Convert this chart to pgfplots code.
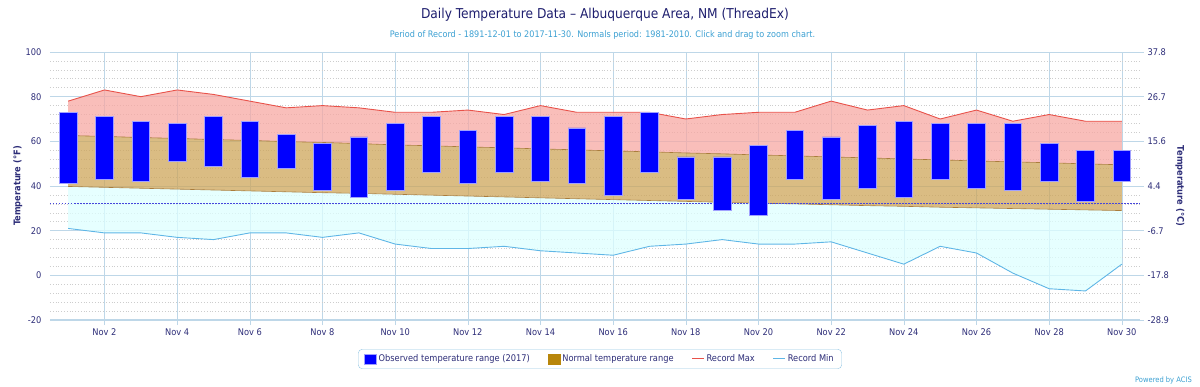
\documentclass[border=0pt]{standalone}
\usepackage{pgfplots}
\usepackage{pgfplotstable}
\pgfplotsset{compat=1.18}
\usepgfplotslibrary{fillbetween}
\usepackage{fontspec}
\setmainfont{DejaVu Sans Condensed}
\definecolor{titlenavy}{RGB}{30,30,110}
\definecolor{ticknavy}{RGB}{45,45,120}
\definecolor{subblue}{RGB}{60,160,210}
\definecolor{gridblue}{RGB}{190,215,232}
\definecolor{minorgrid}{RGB}{205,205,205}
\definecolor{pinkc}{RGB}{247,168,163}
\definecolor{tanc}{RGB}{205,165,90}
\definecolor{cyanc}{RGB}{222,255,255}
\definecolor{tanedge}{RGB}{170,125,60}
\definecolor{recmaxc}{RGB}{232,82,74}
\definecolor{recminc}{RGB}{95,182,230}
\definecolor{obsblue}{RGB}{0,0,255}
\definecolor{obsedge}{RGB}{160,160,255}
\definecolor{normleg}{RGB}{184,134,11}
\definecolor{freeze}{RGB}{70,70,220}
\definecolor{legbox}{RGB}{150,200,228}

\pgfplotstableread{
d lo hi rmax rmin nhi nlo
1 41 73 78 21 62.6 39.8
2 43 71 83 19 62.2 39.4
3 42 69 80 19 61.7 39.0
4 51 68 83 17 61.3 38.6
5 49 71 81 16 60.8 38.2
6 44 69 78 19 60.4 37.8
7 48 63 75 19 59.9 37.4
8 38 59 76 17 59.5 37.0
9 35 62 75 19 59.0 36.7
10 38 68 73 14 58.4 36.3
11 46 71 73 12 58.0 35.9
12 41 65 74 12 57.5 35.5
13 46 71 72 13 57.1 35.1
14 42 71 76 11 56.6 34.7
15 41 66 73 10 56.2 34.3
16 36 71 73 9 55.7 33.9
17 46 73 73 13 55.3 33.5
18 34 53 70 14 54.8 33.1
19 29 53 72 16 54.4 32.7
20 27 58 73 14 53.9 32.3
21 43 65 73 14 53.5 32.0
22 34 62 78 15 53.0 31.6
23 39 67 74 10 52.6 31.2
24 35 69 76 5 52.1 30.9
25 43 68 70 13 51.7 30.5
26 39 68 74 10 51.2 30.2
27 38 68 69 1 50.8 29.9
28 42 59 72 -6 50.4 29.6
29 33 56 69 -7 49.9 29.3
30 42 56 69 5 49.5 29.0
}\data

\begin{document}
\begin{tikzpicture}
\begin{axis}[
  at={(0pt,0pt)}, anchor=south west,
  scale only axis, width=1090pt, height=268pt,
  xmin=0.5, xmax=30.5, ymin=-20, ymax=100,
  xtick={2,4,...,30},
  xticklabels={Nov 2,Nov 4,Nov 6,Nov 8,Nov 10,Nov 12,Nov 14,Nov 16,Nov 18,Nov 20,Nov 22,Nov 24,Nov 26,Nov 28,Nov 30},
  ytick={-20,0,20,40,60,80,100},
  minor y tick num=4,
  xmajorgrids, ymajorgrids, yminorgrids,
  major grid style={color=gridblue, line width=0.6pt},
  minor grid style={color=minorgrid, dash pattern=on 0.8pt off 2pt, line width=0.6pt},
  axis x line*=bottom, axis y line*=left,
  y axis line style={draw=none},
  x axis line style={color=gridblue, line width=1.2pt, -},
  ytick style={draw=none}, minor y tick style={draw=none},
  xtick style={color=gridblue, line width=0.6pt},
  tick align=outside, major tick length=5pt,
  /pgf/number format/assume math mode=true,
  tick label style={font=\fontsize{9.2}{10}\selectfont, color=ticknavy},
  ylabel={Temperature (°F)},
  ylabel style={at={(axis description cs:-0.0294,0.5)}, anchor=center, font=\fontsize{9.2}{10}\selectfont\bfseries, color=ticknavy},
  legend style={at={(axis description cs:0.5046,-0.1455)}, anchor=center,
    draw=legbox, rounded corners=4pt, font=\fontsize{9.2}{10}\selectfont, text=ticknavy,
    /tikz/every even column/.append style={column sep=16pt},
    inner xsep=6pt, inner ysep=3.5pt},
  legend columns=4,
]
\addlegendimage{legend image code/.code={\draw[sharp corners, fill=obsblue, draw=obsedge] (0pt,-5pt) rectangle (12pt,5pt);}}
\addlegendentry{Observed temperature range (2017)}
\addlegendimage{legend image code/.code={\fill[sharp corners, normleg] (0pt,-5pt) rectangle (12pt,5pt);}}
\addlegendentry{Normal temperature range}
\addlegendimage{legend image code/.code={\draw[sharp corners, recmaxc, line width=1pt] (0pt,0pt) -- (12pt,0pt);}}
\addlegendentry{Record Max}
\addlegendimage{legend image code/.code={\draw[sharp corners, recminc, line width=1pt] (0pt,0pt) -- (12pt,0pt);}}
\addlegendentry{Record Min}

\addplot[name path=rmax, draw=none, forget plot] table[x=d, y=rmax]{\data};
\addplot[name path=nhi, draw=none, forget plot] table[x=d, y=nhi]{\data};
\addplot[name path=nlo, draw=none, forget plot] table[x=d, y=nlo]{\data};
\addplot[name path=rmin, draw=none, forget plot] table[x=d, y=rmin]{\data};
\addplot[fill=pinkc, fill opacity=0.75, draw=none, forget plot] fill between[of=rmax and nhi];
\addplot[fill=tanc, fill opacity=0.75, draw=none, forget plot] fill between[of=nhi and nlo];
\addplot[fill=cyanc, fill opacity=0.75, draw=none, forget plot] fill between[of=nlo and rmin];

\addplot[draw=recmaxc, line width=0.9pt, forget plot] table[x=d, y=rmax]{\data};
\addplot[draw=tanedge, line width=0.6pt, forget plot] table[x=d, y=nhi]{\data};
\addplot[draw=tanedge, line width=0.6pt, forget plot] table[x=d, y=nlo]{\data};
\addplot[draw=recminc, line width=0.9pt, forget plot] table[x=d, y=rmin]{\data};

\addplot[freeze, line width=0.9pt, dash pattern=on 1.5pt off 1.5pt, forget plot] coordinates {(0.5,32) (30.5,32)};
\end{axis}

\begin{axis}[
  at={(0pt,0pt)}, anchor=south west,
  scale only axis, width=1090pt, height=268pt,
  xmin=0.5, xmax=30.5, ymin=-20, ymax=100,
  axis lines=none,
  ybar stacked, bar width=17.5pt,
]
\addplot[draw=none, fill=none] table[x=d, y=lo]{\data};
\addplot[fill=obsblue, draw=obsedge, line width=0.7pt] table[x=d, y expr=\thisrow{hi}-\thisrow{lo}]{\data};
\end{axis}

\begin{axis}[
  at={(0pt,0pt)}, anchor=south west,
  scale only axis, width=1090pt, height=268pt,
  xmin=0.5, xmax=30.5, ymin=-28.8889, ymax=37.7778,
  axis x line=none, axis y line*=right,
  y axis line style={draw=none},
  ytick={-28.8889,-17.7778,-6.6667,4.4444,15.5556,26.6667,37.7778},
  yticklabels={-28.9,-17.8,-6.7,4.4,15.6,26.7,37.8},
  ytick style={color=gridblue, line width=0.6pt},
  tick align=outside, major tick length=4pt,
  tick label style={font=\fontsize{9.2}{10}\selectfont, color=ticknavy},
  ylabel={Temperature (°C)},
  ylabel style={at={(axis description cs:1.0367,0.5)}, anchor=center, rotate=180, font=\fontsize{9.2}{10}\selectfont\bfseries, color=ticknavy},
]
\addplot[draw=none, forget plot] coordinates {(1,0) (30,0)};
\end{axis}

\node[font=\fontsize{13.6}{15}\selectfont, text=titlenavy] at (555pt,305pt) {Daily Temperature Data – Albuquerque Area, NM (ThreadEx)};
\node[font=\fontsize{9}{10}\selectfont, text=subblue] at (552.5pt,285pt) {Period of Record - 1891-12-01 to 2017-11-30. Normals period: 1981-2010. Click and drag to zoom chart.};
\node[font=\fontsize{7.5}{9}\selectfont, text=subblue] at (1113.5pt,-60pt) {Powered by ACIS};
\pgfresetboundingbox
\path[use as bounding box] (-50pt,-66pt) rectangle (1150pt,320pt);
\end{tikzpicture}
\end{document}
